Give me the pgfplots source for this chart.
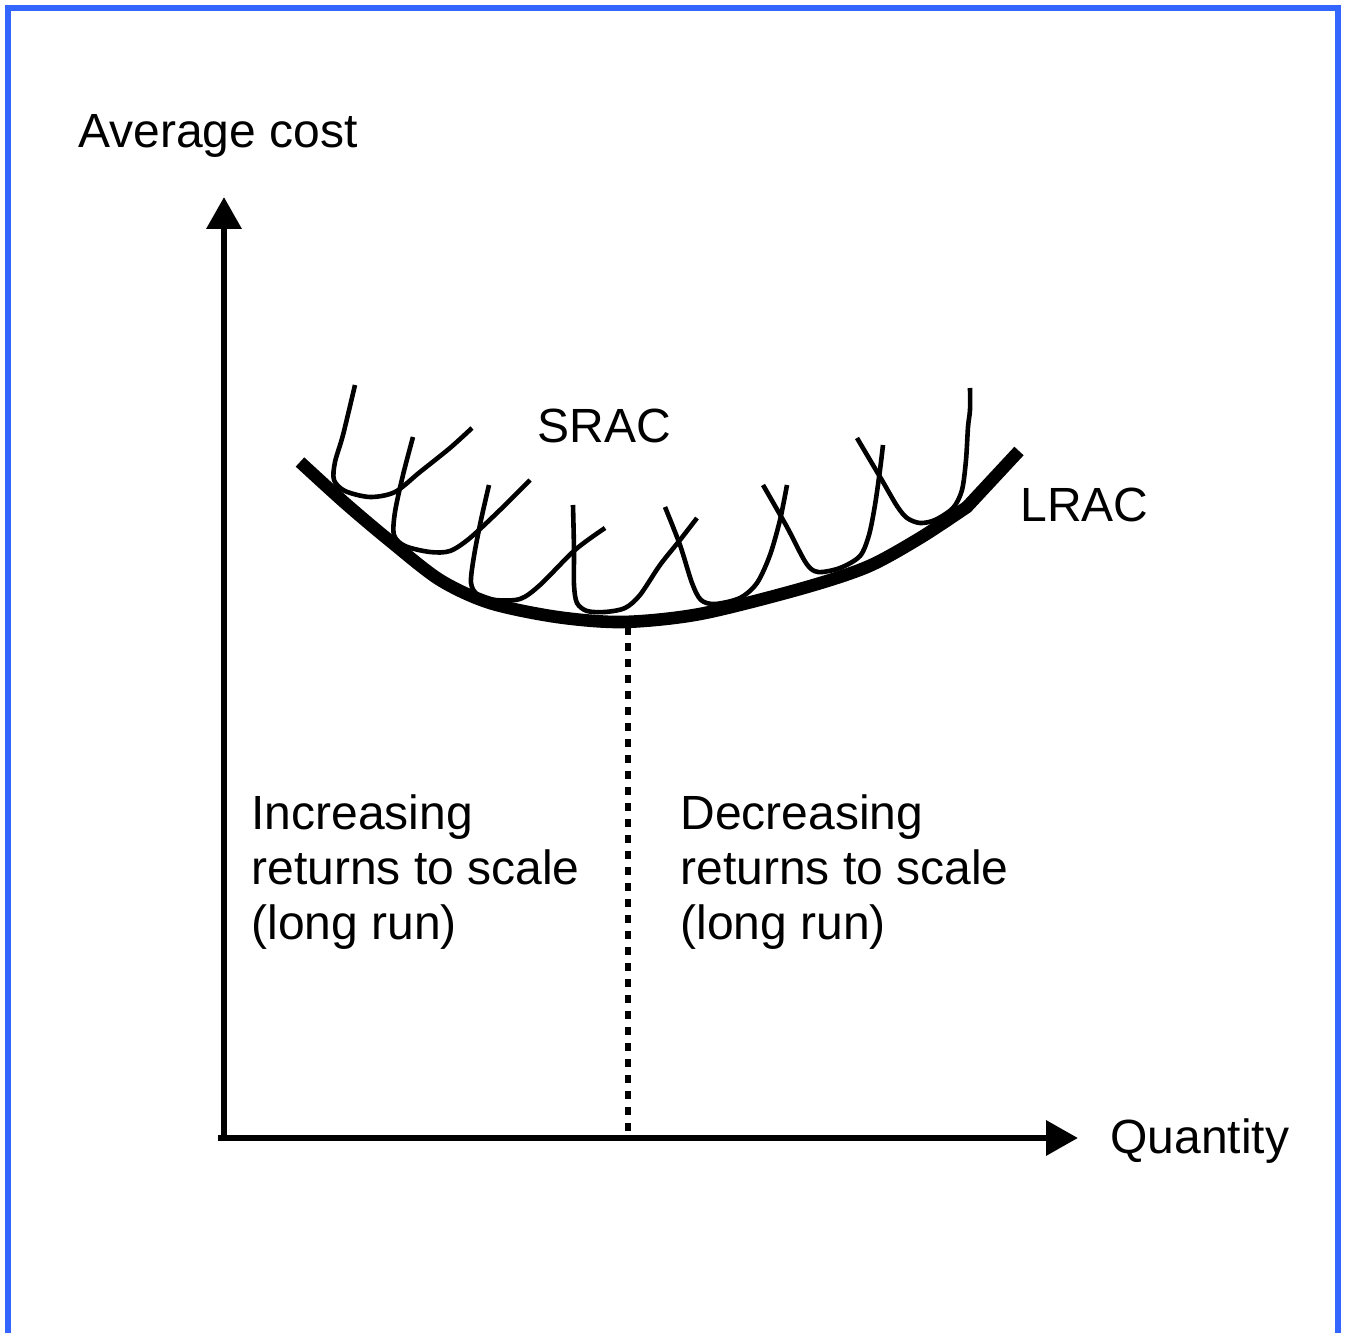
\documentclass[border=0pt]{standalone}
\usepackage{fontspec}
\setmainfont{Liberation Sans}
\usepackage{pgfplots}
\pgfplotsset{compat=1.18}
\usetikzlibrary{arrows.meta}
\definecolor{bord}{RGB}{51,102,255}
\begin{document}
\fontsize{24}{27.5}\selectfont
\begin{tikzpicture}
\begin{axis}[width=673pt,height=666.5pt,scale only axis,
  xmin=0,xmax=1346,ymin=0,ymax=1333,y dir=reverse,
  axis lines=none,clip=false]
\path (axis cs:0,0) (axis cs:1346,1333);
% border
\draw[bord,line width=3pt] (axis cs:8,1333) -- (axis cs:8,8) -- (axis cs:1338,8) -- (axis cs:1338,1333);
% axes
\addplot[black,line width=3.3pt,-{Triangle[length=16pt,width=17pt]}] coordinates {(224,1141) (224,197)};
\addplot[black,line width=3.3pt,-{Triangle[length=16pt,width=17pt]}] coordinates {(218,1138) (1078,1138)};
% dotted line
\addplot[black,line width=3.4pt,dash pattern=on 4pt off 4pt] coordinates {(628,627) (628,1134)};
% LRAC
\addplot[black,line width=6.3pt,smooth,tension=0.5] coordinates {(300,462) (345,503) (390,541) (440,580) (490,603) (557,617) (623,622) (700,614) (800,589) (867,567) (920,538) (967,507)};
\addplot[black,line width=6.3pt] coordinates {(966,508) (1019,451)};
% SRAC curves
\addplot[black,line width=2.3pt,smooth,tension=0.5] coordinates {(355,385) (343,435) (335,462) (334,480) (345,491) (370,497) (395,492) (420,472) (450,448) (472,428)};
\addplot[black,line width=2.3pt,smooth,tension=0.5] coordinates {(413,437) (403,475) (395,512) (394,535) (405,546) (430,552) (450,551) (470,538) (500,510) (530,480)};
\addplot[black,line width=2.3pt,smooth,tension=0.5] coordinates {(489,485) (481,520) (474,556) (471,583) (478,595) (495,600) (520,599) (540,585) (575,550) (605,528)};
\addplot[black,line width=2.3pt,smooth,tension=0.5] coordinates {(573,505) (574,550) (574,585) (577,603) (587,611) (605,612) (625,608) (640,595) (660,565) (680,540) (697,518)};
\addplot[black,line width=2.3pt,smooth,tension=0.5] coordinates {(665,507) (680,545) (692,583) (701,600) (715,604) (740,598) (757,583) (770,555) (780,520) (787,485)};
\addplot[black,line width=2.3pt,smooth,tension=0.5] coordinates {(763,485) (787,527) (806,563) (818,572) (840,568) (860,556) (869,535) (875,505) (880,470) (883,445)};
\addplot[black,line width=2.3pt,smooth,tension=0.5] coordinates {(857,438) (870,460) (883,482) (897,506) (907,518) (920,523) (935,520) (953,508) (962,490) (966,460) (968,427) (970,410) (970,388)};
% labels
\node[anchor=base west,inner sep=0pt] at (axis cs:78,148) {Average cost};
\node[anchor=base west,inner sep=0pt] at (axis cs:537,443) {SRAC};
\node[anchor=base west,inner sep=0pt] at (axis cs:1020,522) {LRAC};
\node[anchor=base west,inner sep=0pt] at (axis cs:1110,1153) {Quantity};
\node[anchor=base west,inner sep=0pt,align=left] at (axis cs:251,940) {Increasing\\returns to scale\\(long run)};
\node[anchor=base west,inner sep=0pt,align=left] at (axis cs:680,940) {Decreasing\\returns to scale\\(long run)};
\end{axis}
\end{tikzpicture}
\end{document}
